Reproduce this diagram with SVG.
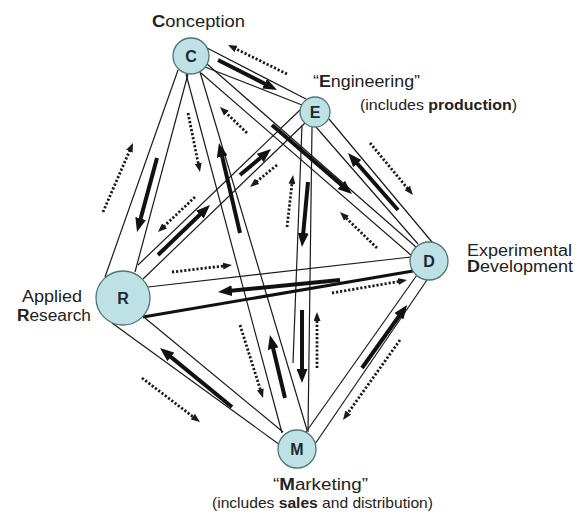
<svg xmlns="http://www.w3.org/2000/svg" width="575" height="513" viewBox="0 0 575 513">
<defs>
<style>
.tube{stroke:#1a1a1a;stroke-width:1.2;fill:none}
.thick{stroke:#111;stroke-width:3.2;fill:none}
.sa{stroke:#111;stroke-width:4;fill:none;marker-end:url(#hs)}
.da{stroke:#1a1a1a;stroke-width:2.8;stroke-dasharray:2.2 1.9;fill:none;marker-end:url(#hd)}
.node circle{fill:#bde1e4;stroke:#4f7478;stroke-width:1.3}
.ltr{font-family:"Liberation Sans",Arial,sans-serif;font-weight:bold;font-size:16px;fill:#1c2a2e;text-anchor:middle}
.lbl{font-family:"Liberation Sans",Arial,sans-serif;font-size:16px;fill:#222}
.sub{font-family:"Liberation Sans",Arial,sans-serif;font-size:14.5px;fill:#222}
.b{font-weight:bold}
</style>
<marker id="hs" markerUnits="userSpaceOnUse" viewBox="0 0 14 11" markerWidth="14" markerHeight="11" refX="6" refY="5.5" orient="auto"><path d="M0,0 L14,5.5 L0,11 z" fill="#111"/></marker>
<marker id="hd" markerUnits="userSpaceOnUse" viewBox="0 0 9 7" markerWidth="9" markerHeight="7" refX="4" refY="3.5" orient="auto"><path d="M0,0 L9,3.5 L0,7 z" fill="#1a1a1a"/></marker>
</defs>
<rect width="575" height="513" fill="#ffffff"/>
<g id="connectors">
<g id="tube-C-E"><line class="tube" x1="207" y1="48" x2="306" y2="99"/><line class="tube" x1="205" y1="67" x2="302" y2="105"/></g>
<g id="tube-C-D"><line class="tube" x1="207" y1="64" x2="416" y2="247"/><line class="tube" x1="201" y1="73" x2="412" y2="256"/></g>
<g id="tube-E-D"><line class="tube" x1="316" y1="127" x2="418" y2="244"/><line class="tube" x1="329" y1="119" x2="432" y2="242"/></g>
<g id="tube-C-R"><line class="tube" x1="178" y1="70" x2="105" y2="277"/><line class="tube" x1="188" y1="74" x2="135" y2="272"/></g>
<g id="tube-C-M"><line class="tube" x1="186" y1="74" x2="282" y2="433"/><line class="tube" x1="200" y1="72" x2="307" y2="430"/></g>
<g id="tube-E-M"><line class="tube" x1="302" y1="125" x2="293" y2="363"/><line class="tube" x1="312" y1="127" x2="308" y2="432"/></g>
<g id="tube-R-D"><line class="tube" x1="148" y1="287" x2="411" y2="257"/><line class="thick" x1="143" y1="317" x2="413" y2="271"/></g>
<g id="tube-R-M"><line class="tube" x1="112" y1="323" x2="280" y2="445"/><line class="tube" x1="145" y1="318" x2="283" y2="432"/></g>
<g id="tube-D-M"><line class="tube" x1="417" y1="275" x2="306" y2="432"/><line class="tube" x1="427" y1="280" x2="315" y2="444"/></g>
<g id="tube-E-R"><line class="tube" x1="300" y1="110" x2="138" y2="265"/><line class="tube" x1="305" y1="123" x2="143" y2="279"/></g>
<g id="solid-arrows">
<line class="sa" x1="218" y1="60" x2="269.9" y2="86.4"/>
<line class="sa" x1="272" y1="125" x2="345.9" y2="188.8"/>
<line class="sa" x1="398" y1="210" x2="353.3" y2="159"/>
<line class="sa" x1="157" y1="158" x2="139.1" y2="224.3"/>
<line class="sa" x1="240" y1="233" x2="220.8" y2="150.8"/>
<line class="sa" x1="285" y1="398" x2="271.8" y2="342.8"/>
<line class="sa" x1="158" y1="255" x2="204.2" y2="210.5"/>
<line class="sa" x1="240" y1="175" x2="264.9" y2="154.1"/>
<line class="sa" x1="308" y1="182" x2="302.7" y2="239"/>
<line class="sa" x1="302" y1="310" x2="302" y2="375"/>
<line class="sa" x1="340" y1="280" x2="226" y2="291.2"/>
<line class="sa" x1="232" y1="407" x2="166.2" y2="353.1"/>
<line class="sa" x1="362" y1="368" x2="402.4" y2="311.5"/>
</g>
<g id="dotted-arrows">
<line class="da" x1="287" y1="74" x2="232.5" y2="47.2"/>
<line class="da" x1="247" y1="133" x2="223.6" y2="110.5"/>
<line class="da" x1="377" y1="248" x2="343.6" y2="215.5"/>
<line class="da" x1="370" y1="143" x2="409.8" y2="191.1"/>
<line class="da" x1="103" y1="212" x2="131" y2="147.6"/>
<line class="da" x1="188" y1="113" x2="199" y2="167.1"/>
<line class="da" x1="240" y1="325" x2="261.5" y2="393.2"/>
<line class="da" x1="277" y1="165" x2="253.9" y2="183.8"/>
<line class="da" x1="195" y1="197" x2="161.6" y2="228.6"/>
<line class="da" x1="287" y1="227" x2="292.4" y2="180"/>
<line class="da" x1="317" y1="368" x2="317" y2="317"/>
<line class="da" x1="172" y1="272" x2="227" y2="265.6"/>
<line class="da" x1="332" y1="293" x2="402.1" y2="280.9"/>
<line class="da" x1="142" y1="378" x2="196" y2="419"/>
<line class="da" x1="400" y1="340" x2="345.9" y2="415.9"/>
</g>
</g>
<g id="node-C" class="node"><circle cx="191" cy="56" r="18"/><text class="ltr" x="191" y="62">C</text>
<text class="lbl" x="152" y="27" textLength="93" lengthAdjust="spacingAndGlyphs"><tspan class="b">C</tspan>onception</text></g>
<g id="node-E" class="node"><circle cx="315" cy="112" r="15"/><text class="ltr" x="315" y="118">E</text>
<text class="lbl" x="313" y="87" textLength="107" lengthAdjust="spacingAndGlyphs">“<tspan class="b">E</tspan>ngineering”</text>
<text class="sub" x="360" y="110" textLength="157" lengthAdjust="spacingAndGlyphs">(includes <tspan class="b">production</tspan>)</text></g>
<g id="node-D" class="node"><circle cx="429" cy="261" r="19"/><text class="ltr" x="429" y="267">D</text>
<text class="lbl" x="467" y="256" textLength="105" lengthAdjust="spacingAndGlyphs">Experimental</text>
<text class="lbl" x="467" y="272" textLength="106" lengthAdjust="spacingAndGlyphs"><tspan class="b">D</tspan>evelopment</text></g>
<g id="node-R" class="node"><circle cx="123" cy="298" r="27"/><text class="ltr" x="123" y="304">R</text>
<text class="lbl" x="22" y="302" textLength="60" lengthAdjust="spacingAndGlyphs">Applied</text>
<text class="lbl" x="17" y="321" textLength="74" lengthAdjust="spacingAndGlyphs"><tspan class="b">R</tspan>esearch</text></g>
<g id="node-M" class="node"><circle cx="297" cy="449" r="19"/><text class="ltr" x="297" y="455">M</text>
<text class="lbl" x="273" y="490" textLength="95" lengthAdjust="spacingAndGlyphs">“<tspan class="b">M</tspan>arketing”</text>
<text class="sub" x="212" y="508" textLength="221" lengthAdjust="spacingAndGlyphs">(includes <tspan class="b">sales</tspan> and distribution)</text></g>
</svg>
